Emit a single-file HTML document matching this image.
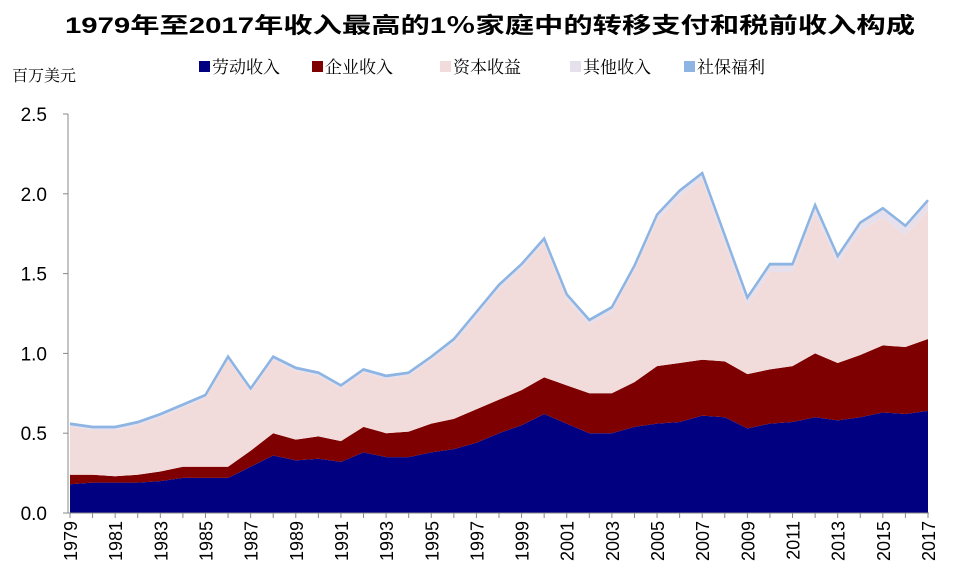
<!DOCTYPE html>
<html><head><meta charset="utf-8"><style>
html,body{margin:0;padding:0;background:#fff;}
svg{display:block;font-family:"Liberation Sans","Noto Sans CJK SC",sans-serif;}
</style></head><body>
<svg id="chart" width="960" height="585" viewBox="0 0 960 585" xmlns="http://www.w3.org/2000/svg">
<text x="490" y="33" text-anchor="middle" font-size="22" font-weight="bold" textLength="850" lengthAdjust="spacingAndGlyphs" fill="#000">1979年至2017年收入最高的1％家庭中的转移支付和税前收入构成</text>
<text x="12" y="81" font-size="16" fill="#000" font-family="'Noto Serif CJK SC',serif">百万美元</text>
<g id="legend"></g>
<g id="plot"></g>
<g id="axes"></g>
</svg>
<script>
const years = [];
for (let y = 1979; y <= 2017; y++) years.push(y);
const labor = [.18,.19,.19,.19,.2,.22,.22,.22,.29,.36,.33,.34,.32,.38,.35,.35,.38,.40,.44,.50,.55,.62,.56,.50,.50,.54,.56,.57,.61,.60,.53,.56,.57,.60,.58,.60,.63,.62,.64];
const business = [.06,.05,.04,.05,.06,.07,.07,.07,.10,.14,.13,.14,.13,.16,.15,.16,.18,.19,.21,.21,.22,.23,.24,.25,.25,.28,.36,.37,.35,.35,.34,.34,.35,.40,.36,.39,.42,.42,.45];
const capital = [.30,.28,.29,.31,.34,.37,.43,.67,.37,.46,.43,.38,.33,.34,.34,.35,.40,.47,.58,.69,.76,.84,.54,.43,.51,.70,.91,1.04,1.13,.74,.43,.61,.59,.88,.62,.78,.80,.70,.81];
const other = [.01,.01,.01,.01,.01,.01,.01,.01,.01,.01,.01,.01,.01,.01,.01,.01,.01,.02,.02,.02,.02,.02,.02,.02,.02,.02,.03,.03,.03,.04,.04,.04,.04,.04,.04,.04,.05,.05,.05];
const social = [.01,.01,.01,.01,.01,.01,.01,.01,.01,.01,.01,.01,.01,.01,.01,.01,.01,.01,.01,.01,.01,.01,.01,.01,.01,.01,.01,.01,.01,.01,.01,.01,.01,.01,.01,.01,.01,.01,.01];
const seriesNames = ["劳动收入","企业收入","资本收益","其他收入","社保福利"];
const yTicks = [0,0.5,1.0,1.5,2.0,2.5];
const yTickLabels = ["0.0","0.5","1.0","1.5","2.0","2.5"];

const NS = "http://www.w3.org/2000/svg";
const X0 = 70, X1 = 928, Y0 = 513, Y1 = 114, YMAX = 2.5;
const xs = i => X0 + (X1 - X0) * i / (years.length - 1);
const ys = v => Y0 - (Y0 - Y1) * v / YMAX;
function mk(tag, attrs, parent) {
  const e = document.createElementNS(NS, tag);
  for (const k in attrs) e.setAttribute(k, attrs[k]);
  parent.appendChild(e); return e;
}
const plot = document.getElementById('plot');
const axes = document.getElementById('axes');
const legend = document.getElementById('legend');
const series = [labor, business, capital, other, social];
const colors = ["#000080","#7f0000","#f2dcdb","#e6e0ec","#8db4e2"];
const keys = ["labor","business","capital","other","social"];
let base = years.map(() => 0);
series.forEach((s, k) => {
  const top = base.map((b, i) => b + s[i]);
  let d = "M" + xs(0) + "," + ys(top[0]);
  for (let i = 1; i < years.length; i++) d += " L" + xs(i) + "," + ys(top[i]);
  for (let i = years.length - 1; i >= 0; i--) d += " L" + xs(i) + "," + ys(base[i]);
  d += " Z";
  const p = mk('path', {d: d, fill: colors[k], stroke: k === 4 ? "none" : "none"}, plot);
  
  
  if (k === 4) {
    let dl = "M" + xs(0) + "," + ys(top[0]);
    for (let i = 1; i < years.length; i++) dl += " L" + xs(i) + "," + ys(top[i]);
    const l = mk('path', {d: dl, fill: "none", stroke: "#8db4e2", "stroke-width": 2.5}, plot);
    
    
  }
  base = top;
});
// axes
const ya = mk('line', {x1: 68, y1: Y1, x2: 68, y2: Y0, stroke: "#888", "stroke-width": 1}, axes);


const xa = mk('line', {x1: 68, y1: Y0, x2: X1 + 1, y2: Y0, stroke: "#888", "stroke-width": 1}, axes);


yTicks.forEach((v, i) => {
  const t = mk('line', {x1: 63, y1: ys(v), x2: 68, y2: ys(v), stroke: "#888"}, axes);
  
  
  const tx = mk('text', {x: 47, y: ys(v) + 7, "text-anchor": "end", "font-size": 19, fill: "#000"}, axes);
  tx.textContent = yTickLabels[i];
  
  
});
years.forEach((yr, i) => {
  const t = mk('line', {x1: xs(i), y1: Y0, x2: xs(i), y2: Y0 + 5, stroke: "#888"}, axes);
  
  
  if (i % 2 === 0) {
    const tx = mk('text', {x: 0, y: 0, "text-anchor": "end", "font-size": 18, fill: "#000",
      transform: "translate(" + (xs(i) + 7) + "," + (Y0 + 8) + ") rotate(-90)"}, axes);
    tx.textContent = yr;
    
    
  }
});
// legend
const lx = [199, 312, 440, 570, 684];
seriesNames.forEach((n, k) => {
  const r = mk('rect', {x: lx[k], y: 61, width: 11, height: 11, fill: colors[k]}, legend);
  
  
  const t = mk('text', {x: lx[k] + 13, y: 73, "font-size": 17, fill: "#000", "font-family": "'Noto Serif CJK SC',serif"}, legend);
  t.textContent = n;
  
  
});
</script>
</body></html>
